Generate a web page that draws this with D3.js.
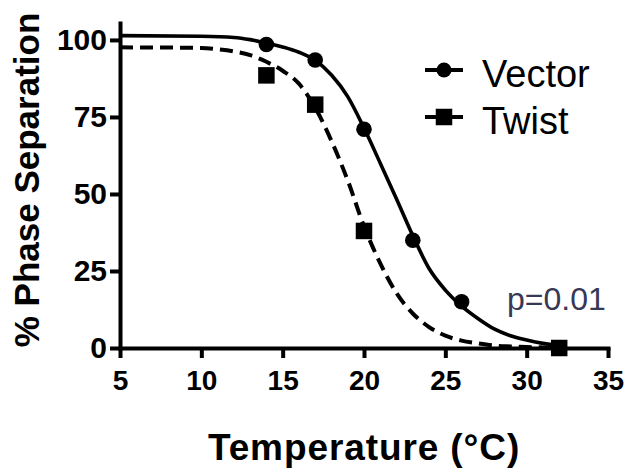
<!DOCTYPE html>
<html>
<head>
<meta charset="utf-8">
<script src="https://cdn.jsdelivr.net/npm/d3@7"></script>
<style>
  html, body { margin: 0; padding: 0; background: #ffffff; }
  svg { display: block; }
  text { font-family: "Liberation Sans", Arial, Helvetica, sans-serif; fill: #000; }
</style>
</head>
<body>
<svg id="chart" width="628" height="474"></svg>
<script>
// ---- data ----
const vectorTemps = [14, 17, 20, 23, 26, 32];
const vectorValues = [98.5, 93.5, 71, 35, 15, 0];

const twistTemps = [14, 17, 20, 32];
const twistValues = [88.5, 79, 38, 0];

// fitted curves
const vectorFitTemps  = [5, 10, 12, 13, 14, 15, 16, 17, 18, 19, 20, 21, 22, 23, 24, 25, 26, 27, 28, 29, 30, 31, 32];
const vectorFitValues = [101.4, 101.2, 100.8, 100.1, 99.0, 97.7, 96.0, 93.4, 88.6, 81.6, 71.4, 60.0, 48.4, 36.5, 25.8, 18.8, 13.6, 9.6, 6.2, 4.0, 2.6, 1.5, 0.8];

const twistFitTemps  = [5, 10, 11, 12, 13, 14, 15, 16, 17, 18, 19, 20, 21, 22, 23, 24, 25, 26, 27, 28, 29, 30, 31, 32];
const twistFitValues = [97.6, 97.4, 97.0, 96.3, 95.1, 92.9, 90.0, 85.8, 78.0, 67.2, 54.4, 39.5, 27.5, 17.8, 11.2, 6.8, 4.0, 2.4, 1.5, 0.8, 0.5, 0.3, 0.2, 0.1];

const xTicks = [5, 10, 15, 20, 25, 30, 35];
const yTicks = [0, 25, 50, 75, 100];

const seriesNames = ["Vector", "Twist"];
const pLabel = "p=0.01";
const xTitle = "Temperature (°C)";
const yTitle = "% Phase Separation";

// ---- drawing ----
const svg = d3.select("#chart");
const x = d3.scaleLinear().domain([5, 35]).range([120, 608]);
const y = d3.scaleLinear().domain([0, 105.5]).range([348, 23]);

const AX_W = 4;

// x axis
const gx = svg.append("g").attr("transform", `translate(0,${y(0)})`)
  .call(d3.axisBottom(x).tickValues(xTicks).tickSize(10).tickSizeOuter(0).tickPadding(12));
// y axis
const gy = svg.append("g").attr("transform", `translate(${x(5)},0)`)
  .call(d3.axisLeft(y).tickValues(yTicks).tickSize(10).tickSizeOuter(0).tickPadding(3));

[gx, gy].forEach(g => {
  g.select(".domain").attr("stroke", "#000").attr("stroke-width", AX_W).attr("stroke-linecap", "square");
  g.selectAll(".tick line").attr("stroke", "#000").attr("stroke-width", AX_W);
  g.selectAll(".tick text")
    .style("font-family", "'Liberation Sans', Arial, Helvetica, sans-serif")
    .style("font-weight", "bold")
    .style("font-size", "28px")
    .attr("fill", "#000");
});
gy.selectAll(".tick text").style("font-size", "30px");

// fitted curves
const line = d3.line().x(d => x(d[0])).y(d => y(d[1])).curve(d3.curveMonotoneX);

svg.append("path")
  .datum(d3.zip(vectorFitTemps, vectorFitValues))
  .attr("d", line)
  .attr("fill", "none").attr("stroke", "#000").attr("stroke-width", 3.6);

svg.append("path")
  .datum(d3.zip(twistFitTemps, twistFitValues))
  .attr("d", line)
  .attr("fill", "none").attr("stroke", "#000").attr("stroke-width", 4)
  .attr("stroke-dasharray", "13,7");

// markers
svg.append("g").selectAll("circle")
  .data(d3.zip(vectorTemps, vectorValues))
  .join("circle")
  .attr("cx", d => x(d[0])).attr("cy", d => y(d[1])).attr("r", 7.8)
  .attr("fill", "#000");

const SQ = 16.5;
svg.append("g").selectAll("rect")
  .data(d3.zip(twistTemps, twistValues))
  .join("rect")
  .attr("x", d => x(d[0]) - SQ / 2).attr("y", d => y(d[1]) - SQ / 2)
  .attr("width", SQ).attr("height", SQ)
  .attr("fill", "#000");

// legend
const legend = svg.append("g");
const legRows = [70, 117];
seriesNames.forEach((name, i) => {
  const cy = legRows[i];
  legend.append("line").attr("x1", 425).attr("x2", 463).attr("y1", cy).attr("y2", cy)
    .attr("stroke", "#000").attr("stroke-width", 4);
  if (i === 0) {
    legend.append("circle").attr("cx", 444).attr("cy", cy).attr("r", 7.5).attr("fill", "#000");
  } else {
    legend.append("rect").attr("x", 444 - SQ / 2).attr("y", cy - SQ / 2)
      .attr("width", SQ).attr("height", SQ).attr("fill", "#000");
  }
  legend.append("text").attr("x", 482).attr("y", cy + 17)
    .style("font-size", "38px").text(name);
});

// p value
svg.append("text").attr("x", 507).attr("y", 310)
  .style("font-size", "32px").style("fill", "#383855")
  .text(pLabel);

// axis titles
svg.append("text").attr("x", 364).attr("y", 460).attr("text-anchor", "middle")
  .style("font-size", "37px").style("font-weight", "bold").style("letter-spacing", "0.9px")
  .text(xTitle);

svg.append("text")
  .attr("transform", "translate(39,180) rotate(-90)")
  .attr("text-anchor", "middle")
  .style("font-size", "35px").style("font-weight", "bold")
  .text(yTitle);
</script>
</body>
</html>
